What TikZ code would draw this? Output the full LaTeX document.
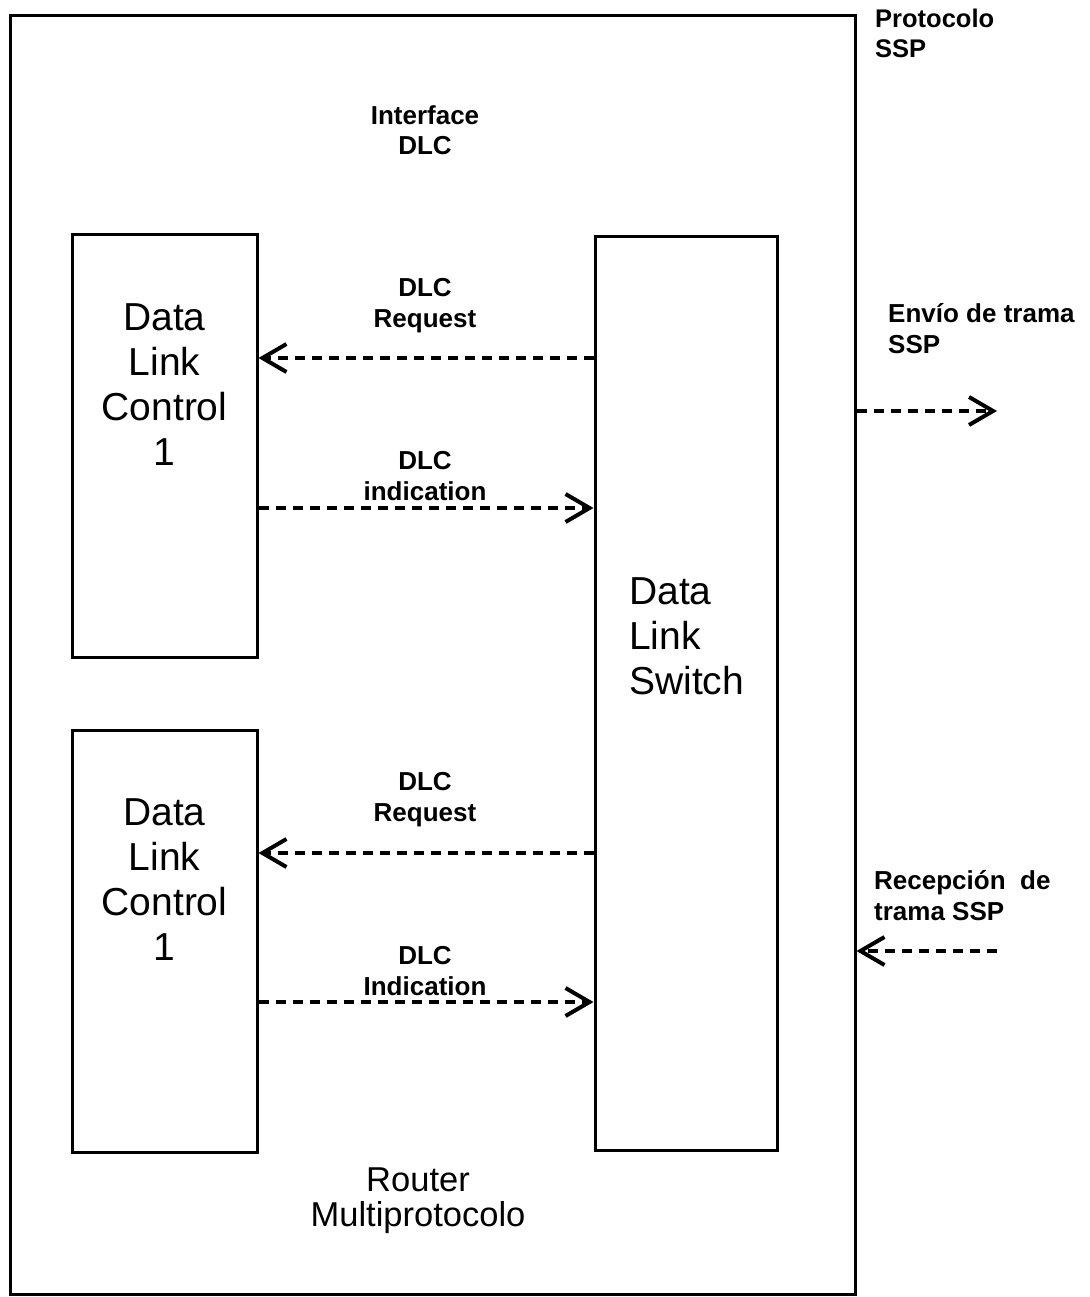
\documentclass[tikz,border=0pt]{standalone}
\usepackage{fontspec}
\setmainfont{Liberation Sans}
\usetikzlibrary{arrows.meta}
\begin{document}
\begin{tikzpicture}[x=1pt,y=-1pt,
  frame/.style={draw=black,line width=3pt,inner sep=0pt},
  block/.style={frame,minimum width=185pt},
  bigtext/.style={inner sep=0pt,font=\fontsize{39}{45}\selectfont},
  lbl/.style={inner sep=0pt,font=\bfseries\fontsize{26}{31}\selectfont},
  flow/.style={line width=3.2pt,dash pattern=on 10pt off 7pt,
    -{Straight Barb[length=24pt,width=28pt,line width=4pt]}}]
\useasboundingbox (0,0) rectangle (1089,1297);
\fill[white] (0,0) rectangle (1089,1297);

% router frame
\node[frame,minimum width=845pt,minimum height=1278pt] (router) at (432.5,655) {};

% data link control blocks
\node[block,minimum height=422pt] (dlc1) at (164.5,446) {};
\node[block,minimum height=422pt] (dlc2) at (164.5,941) {};
\node[bigtext,align=center] (dlc1t) at (164.5,385) {Data\\Link\\Control\\1};
\node[bigtext,align=center] (dlc2t) at (164.5,880) {Data\\Link\\Control\\1};

% data link switch
\node[frame,minimum width=182pt,minimum height=913pt] (dls) at (686,693.5) {};
\node[bigtext,align=left,anchor=west] (dlst) at (629,636) {Data\\Link\\Switch};

% titles
\node[lbl,align=center,font=\bfseries\fontsize{26}{30}\selectfont] (iface) at (425,130) {Interface\\DLC};
\node[lbl,align=left,anchor=west,font=\bfseries\fontsize{25.5}{30}\selectfont] (proto) at (875,33) {Protocolo\\SSP};
\node[inner sep=0pt,align=center,font=\fontsize{34.5}{35}\selectfont] (rname) at (418,1201) {Router\\Multiprotocolo};

% primitive labels
\node[lbl,align=center] (req1) at (425,306) {DLC\\Request};
\node[lbl,align=center] (ind1) at (425,476) {DLC\\indication};
\node[lbl,align=center] (req2) at (425,800) {DLC\\Request};
\node[lbl,align=center] (ind2) at (425,971) {DLC\\Indication};
\node[lbl,align=left,anchor=west] (send) at (888,328.5) {Envío de trama\\SSP};
\node[lbl,align=left,anchor=west] (recv) at (874,895.5) {Recepción\ \ de\\trama SSP};

% primitives between the blocks
\draw[flow] (dls.west |- 0,358) -- (dlc1.east |- 0,358);
\draw[flow] (dlc1.east |- 0,508) -- (dls.west |- 0,508);
\draw[flow] (dls.west |- 0,853) -- (dlc2.east |- 0,853);
\draw[flow] (dlc2.east |- 0,1002) -- (dls.west |- 0,1002);

% frames leaving and entering the router
\coordinate (sendend) at (997,411);
\coordinate (recvstart) at (997,951);
\draw[flow] (router.east |- sendend) -- (sendend);
\draw[flow] (recvstart) -- (router.east |- recvstart);
\end{tikzpicture}
\end{document}
